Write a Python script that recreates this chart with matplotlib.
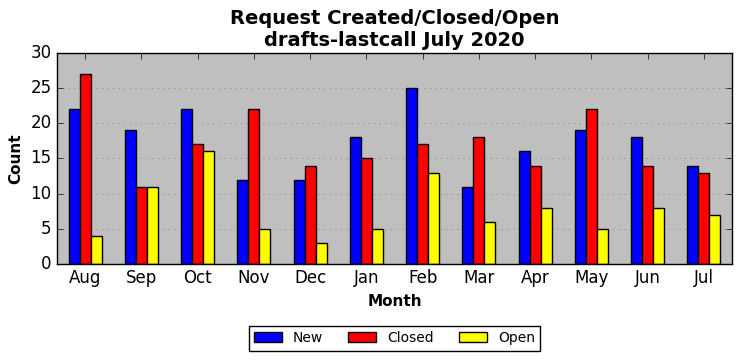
import numpy as np
import matplotlib
matplotlib.use('Agg')
import matplotlib.pyplot as plt

months = ['Aug', 'Sep', 'Oct', 'Nov', 'Dec', 'Jan', 'Feb', 'Mar', 'Apr', 'May', 'Jun', 'Jul']
new = [22, 19, 22, 12, 12, 18, 25, 11, 16, 19, 18, 14]
closed = [27, 11, 17, 22, 14, 15, 17, 18, 14, 22, 14, 13]
open_ = [4, 11, 16, 5, 3, 5, 13, 6, 8, 5, 8, 7]

plt.style.use('classic')

fig = plt.figure(figsize=(7.42, 3.61), dpi=100, facecolor='white')
ax = fig.add_axes([0.0768, 0.269, 0.9097, 0.584])
ax.set_facecolor('#bfbfbf')

x = np.arange(len(months))
w = 0.195
ax.bar(x - w, new, w, color='blue', edgecolor='black', label='New', align='center')
ax.bar(x, closed, w, color='red', edgecolor='black', label='Closed', align='center')
ax.bar(x + w, open_, w, color='yellow', edgecolor='black', label='Open', align='center')

ax.set_xlim(-0.5, len(months) - 0.5)
ax.set_ylim(0, 30)
ax.set_xticks(x)
ax.set_xticklabels(months, fontsize=12)
ax.tick_params(axis='y', labelsize=12)
ax.yaxis.grid(True, linestyle=':', color='#808080')
ax.set_axisbelow(True)

ax.set_xlabel('Month', fontsize=11, fontweight='bold')
ax.set_ylabel('Count', fontsize=11, fontweight='bold')
ax.set_title('Request Created/Closed/Open\ndrafts-lastcall July 2020', fontsize=14, fontweight='bold')

ax.legend(loc='upper center', bbox_to_anchor=(0.5, -0.26), ncol=3, fontsize=10,
          frameon=True, fancybox=False, handlelength=2.0, columnspacing=1.8)

fig.savefig('out.png', dpi=100, facecolor='white')
